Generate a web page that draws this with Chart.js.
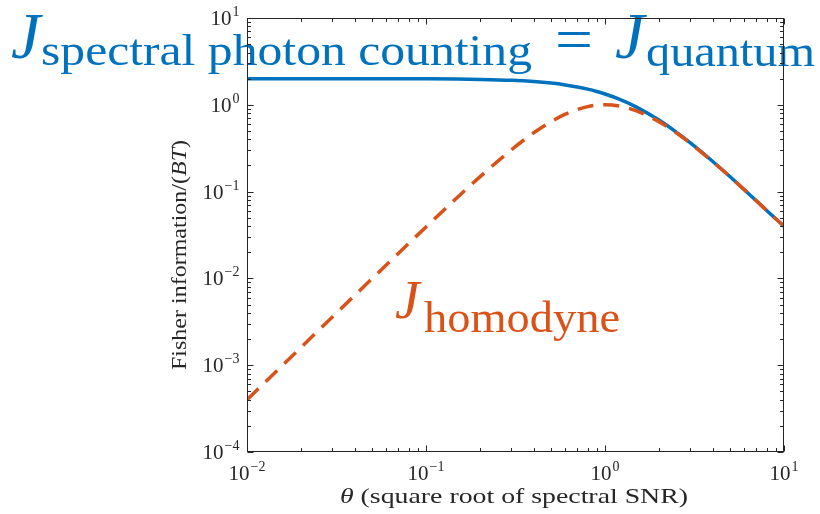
<!DOCTYPE html>
<html>
<head>
  <title>Fisher information vs theta</title>
  <script src="https://cdn.jsdelivr.net/npm/chart.js"></script>
  <style>
    body { margin: 0; background: #fff; }
  </style>
</head>
<body>
<canvas id="myChart" width="820" height="514"></canvas>

<script>
  // values
  const theta = [0.01, 0.02, 0.03, 0.05, 0.07, 0.1, 0.15, 0.2, 0.3, 0.4, 0.5, 0.6, 0.7, 0.8, 0.9,
                 1.0, 1.2, 1.5, 2, 2.5, 3, 4, 5, 6, 7, 8, 10];
  const jQuantum = [2.0, 2.0, 2.0, 1.998, 1.995, 1.99, 1.978, 1.96, 1.914, 1.852, 1.778, 1.695, 1.606, 1.515, 1.423,
                    1.333, 1.163, 0.941, 0.667, 0.485, 0.364, 0.222, 0.148, 0.105, 0.0784, 0.0606, 0.0400];
  const jHomodyne = [0.0004, 0.0016, 0.0036, 0.00995, 0.0194, 0.0392, 0.0861, 0.148, 0.303, 0.476, 0.64, 0.779, 0.881, 0.952, 0.991,
                     1.0, 0.967, 0.852, 0.64, 0.476, 0.36, 0.221, 0.148, 0.105, 0.0784, 0.0606, 0.0398];
  const xTickExps = [-2, -1, 0, 1];
  const yTickExps = [-4, -3, -2, -1, 0, 1];

  const axisColor = '#262626';
  const blue = '#0072BD';
  const orange = '#D95319';
  const serif = '"Liberation Serif", "Times New Roman", serif';

  // draw a piece of text, optionally squeezed to a given width
  function drawText(ctx, str, x, y, size, opts) {
    opts = opts || {};
    ctx.font = (opts.italic ? 'italic ' : '') + size + 'px ' + serif;
    const w = ctx.measureText(str).width;
    const sx = opts.width ? opts.width / w : 1;
    ctx.save();
    ctx.translate(x, y);
    ctx.scale(sx, 1);
    ctx.textAlign = 'left';
    ctx.textBaseline = 'alphabetic';
    ctx.fillStyle = opts.color || axisColor;
    ctx.fillText(str, 0, 0);
    ctx.restore();
    return w * sx;
  }

  function measure(ctx, str, size, italic) {
    ctx.font = (italic ? 'italic ' : '') + size + 'px ' + serif;
    return ctx.measureText(str).width;
  }

  // "10^exp" tick label
  function drawPow(ctx, exp, x, y, align) {
    const expStr = exp < 0 ? '\u2212' + (-exp) : String(exp);
    const bw = measure(ctx, '10', 21);
    const ew = measure(ctx, expStr, 14);
    const total = bw + 1 + ew;
    let left = x;
    if (align === 'center') left = x - total / 2;
    if (align === 'right') left = x - total;
    drawText(ctx, '10', left, y, 21);
    drawText(ctx, expStr, left + bw + 1, y - 9, 14);
  }

  // run of text pieces fitted to a total width
  function drawRun(ctx, parts, x, y, width, color) {
    let total = 0;
    parts.forEach(p => { p.w = measure(ctx, p.t, p.size, p.italic); total += p.w; });
    const k = width / total;
    let cx = x;
    parts.forEach(p => {
      drawText(ctx, p.t, cx, y, p.size, { italic: p.italic, width: p.w * k, color: color });
      cx += p.w * k;
    });
  }

  const figurePlugin = {
    id: 'figure',
    afterDatasetsDraw(chart) {
      const ctx = chart.ctx;
      const a = chart.chartArea;
      const xs = chart.scales.x, ys = chart.scales.y;
      ctx.save();

      // annotations
      drawText(ctx, 'J', 11, 58, 66, { italic: true, color: blue });
      drawText(ctx, 'spectral photon counting', 41, 65, 44, { width: 491, color: blue });
      drawText(ctx, '=', 555, 59, 60, { width: 38, color: blue });
      drawText(ctx, 'J', 615, 58, 66, { italic: true, color: blue });
      drawText(ctx, 'quantum', 646, 66, 44, { width: 169, color: blue });

      drawText(ctx, 'J', 395, 318, 55, { italic: true, color: orange });
      drawText(ctx, 'homodyne', 424, 332, 44, { width: 196, color: orange });

      // axes box
      ctx.strokeStyle = axisColor;
      ctx.lineWidth = 1;
      const L = Math.round(a.left) + 0.5, R = Math.round(a.right) - 0.5;
      const T = Math.round(a.top) + 0.5, B = Math.round(a.bottom) - 0.5;
      ctx.strokeRect(L, T, R - L, B - T);

      // ticks, inside on all four sides
      ctx.beginPath();
      for (let d = xTickExps[0]; d <= xTickExps[xTickExps.length - 1]; d++) {
        for (let k = 1; k <= 9; k++) {
          const v = k * Math.pow(10, d);
          if (v > xs.max * 1.0001) break;
          const px = Math.round(xs.getPixelForValue(v)) + 0.5;
          const len = k === 1 ? 6 : 3.5;
          ctx.moveTo(px, B); ctx.lineTo(px, B - len);
          ctx.moveTo(px, T); ctx.lineTo(px, T + len);
        }
      }
      for (let d = yTickExps[0]; d <= yTickExps[yTickExps.length - 1]; d++) {
        for (let k = 1; k <= 9; k++) {
          const v = k * Math.pow(10, d);
          if (v > ys.max * 1.0001) break;
          const py = Math.round(ys.getPixelForValue(v)) + 0.5;
          const len = k === 1 ? 6 : 3.5;
          ctx.moveTo(L, py); ctx.lineTo(L + len, py);
          ctx.moveTo(R, py); ctx.lineTo(R - len, py);
        }
      }
      ctx.stroke();

      // tick labels
      xTickExps.forEach(e => drawPow(ctx, e, xs.getPixelForValue(Math.pow(10, e)), B + 28, 'center'));
      yTickExps.forEach(e => drawPow(ctx, e, L - 8, ys.getPixelForValue(Math.pow(10, e)) + 7, 'right'));

      // x title
      drawRun(ctx, [
        { t: '\u03b8', size: 21, italic: true },
        { t: ' (square root of spectral SNR)', size: 21 }
      ], 340, 503, 348);

      // y title
      ctx.save();
      ctx.translate(186, 370);
      ctx.rotate(-Math.PI / 2);
      drawRun(ctx, [
        { t: 'Fisher information/(', size: 21 },
        { t: 'BT', size: 21, italic: true },
        { t: ')', size: 21 }
      ], 0, 0, 230);
      ctx.restore();

      ctx.restore();
    }
  };

  new Chart(document.getElementById('myChart'), {
    type: 'line',
    data: {
      datasets: [
        {
          label: 'J quantum',
          data: theta.map((t, i) => ({ x: t, y: jQuantum[i] })),
          borderColor: blue,
          borderWidth: 3.5,
          pointRadius: 0,
          cubicInterpolationMode: 'monotone',
          fill: false,
          order: 1
        },
        {
          label: 'J homodyne',
          data: theta.map((t, i) => ({ x: t, y: jHomodyne[i] })),
          borderColor: orange,
          borderWidth: 3.5,
          borderDash: [16, 10],
          borderCapStyle: 'butt',
          pointRadius: 0,
          cubicInterpolationMode: 'monotone',
          fill: false,
          order: 0
        }
      ]
    },
    options: {
      responsive: false,
      animation: false,
      layout: { padding: { left: 247, top: 18, right: 36, bottom: 62 } },
      plugins: { legend: { display: false }, tooltip: { enabled: false } },
      scales: {
        x: { type: 'logarithmic', min: 0.01, max: 10, display: false },
        y: { type: 'logarithmic', min: 0.0001, max: 10, display: false }
      }
    },
    plugins: [figurePlugin]
  });
</script>
</body>
</html>
